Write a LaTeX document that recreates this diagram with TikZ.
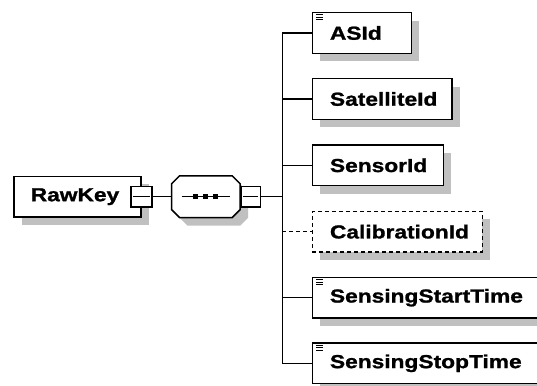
\documentclass[tikz,border=0pt]{standalone}
\usepackage{fontspec}
\newfontfamily\lbl{Liberation Sans}[FakeStretch=1.21, FakeBold=1.2]
\usetikzlibrary{shadows}
\definecolor{sgray}{HTML}{C0C0C0}
\tikzset{
  shad/.style={general shadow={fill=sgray, shadow xshift=8pt, shadow yshift=-8pt}},
  elem/.style={draw, line width=1.5pt, fill=white, rectangle, inner sep=0pt,
    minimum height=40.6pt, anchor=west, shad,
    font=\lbl\bfseries\fontsize{18.8pt}{20pt}\selectfont},
  optelem/.style={elem, dash pattern=on 4pt off 3pt},
  minusbox/.style={draw, line width=1.4pt, fill=white, rectangle, inner sep=0pt,
    minimum width=20pt, minimum height=20.5pt},
  minusline/.style={line width=1.2pt},
  seqanchor/.style={rectangle, inner sep=0pt, minimum width=68.3pt, minimum height=41.3pt},
  octo/.style={draw, line width=1.5pt, fill=white},
  octoshadow/.style={fill=sgray},
  sq/.style={fill=black, rectangle, inner sep=0pt, minimum size=5pt},
  conn/.style={line width=1.2pt},
  optconn/.style={conn, dash pattern=on 4pt off 3pt},
  icon/.style={line width=1pt}
}
\newcommand\eqicon[1]{%
  \draw[icon] ([xshift=4.5pt,yshift=-3pt]#1.north west) -- ++(7,0);
  \draw[icon] ([xshift=4.5pt,yshift=-5.5pt]#1.north west) -- ++(7,0);
  \draw[icon] ([xshift=4.5pt,yshift=-8pt]#1.north west) -- ++(7,0);}
\newcommand\octpath[1]{%
  ([xshift=8pt]#1.north west) -- ([xshift=-8pt]#1.north east) --
  ([yshift=-8pt]#1.north east) -- ([yshift=8pt]#1.south east) --
  ([xshift=-8pt]#1.south east) -- ([xshift=8pt]#1.south west) --
  ([yshift=8pt]#1.south west) -- ([yshift=-8pt]#1.north west) -- cycle}
\begin{document}
\begin{tikzpicture}[x=1pt,y=-1pt]
\useasboundingbox (0,0) rectangle (537,385);
% root
\node[elem, minimum width=126.7pt] (rk) at (13.3,196.7) {\makebox[93.3pt][l]{RawKey}};
\node[minusbox, minimum width=21pt] (rkm) at (rk.east) {};
\draw[minusline] ([xshift=3pt]rkm.west) -- ([xshift=-3pt]rkm.east);
% sequence compositor
\node[seqanchor] (seq) at (205.85,196.7) {};
\node[seqanchor] (seqs) at (213.85,204.7) {};
\fill[octoshadow] \octpath{seqs};
\draw[octo] \octpath{seq};
\draw[conn] ([xshift=-24pt]seq.center) -- ([xshift=24pt]seq.center);
\node[sq] (sq1) at ([xshift=-10pt]seq.center) {};
\node[sq] (sq2) at (seq.center) {};
\node[sq] (sq3) at ([xshift=10pt]seq.center) {};
\node[minusbox, minimum width=19pt] (seqm) at ([xshift=10.5pt]seq.east) {};
\draw[minusline] ([xshift=2.5pt]seqm.west) -- ([xshift=-2.5pt]seqm.east);
\draw[conn] (rkm.east) -- (seq.west);
\coordinate (bus) at (282.3,196.7);
\draw[conn] (seqm.east) -- (bus);
% children
\node[elem, minimum width=99pt] (c1) at (311.7,33) {\makebox[64pt][l]{ASId}};
\node[elem, minimum width=139.3pt] (c2) at (311.7,99) {\makebox[104.3pt][l]{SatelliteId}};
\node[elem, minimum width=131pt] (c3) at (311.7,165.3) {\makebox[96pt][l]{SensorId}};
\node[optelem, minimum width=170pt] (c4) at (311.7,231.7) {\makebox[135pt][l]{CalibrationId}};
\node[elem, minimum width=240pt] (c5) at (311.7,297.7) {\makebox[205pt][l]{SensingStartTime}};
\node[elem, minimum width=240pt] (c6) at (311.7,363.3) {\makebox[205pt][l]{SensingStopTime}};
\eqicon{c1}
\eqicon{c5}
\eqicon{c6}
\draw[conn] (bus |- c1.west) -- (bus |- c6.west);
\draw[conn] (bus |- c1.west) -- (c1.west);
\draw[conn] (bus |- c2.west) -- (c2.west);
\draw[conn] (bus |- c3.west) -- (c3.west);
\draw[optconn] (bus |- c4.west) -- (c4.west);
\draw[conn] (bus |- c5.west) -- (c5.west);
\draw[conn] (bus |- c6.west) -- (c6.west);
\end{tikzpicture}
\end{document}
